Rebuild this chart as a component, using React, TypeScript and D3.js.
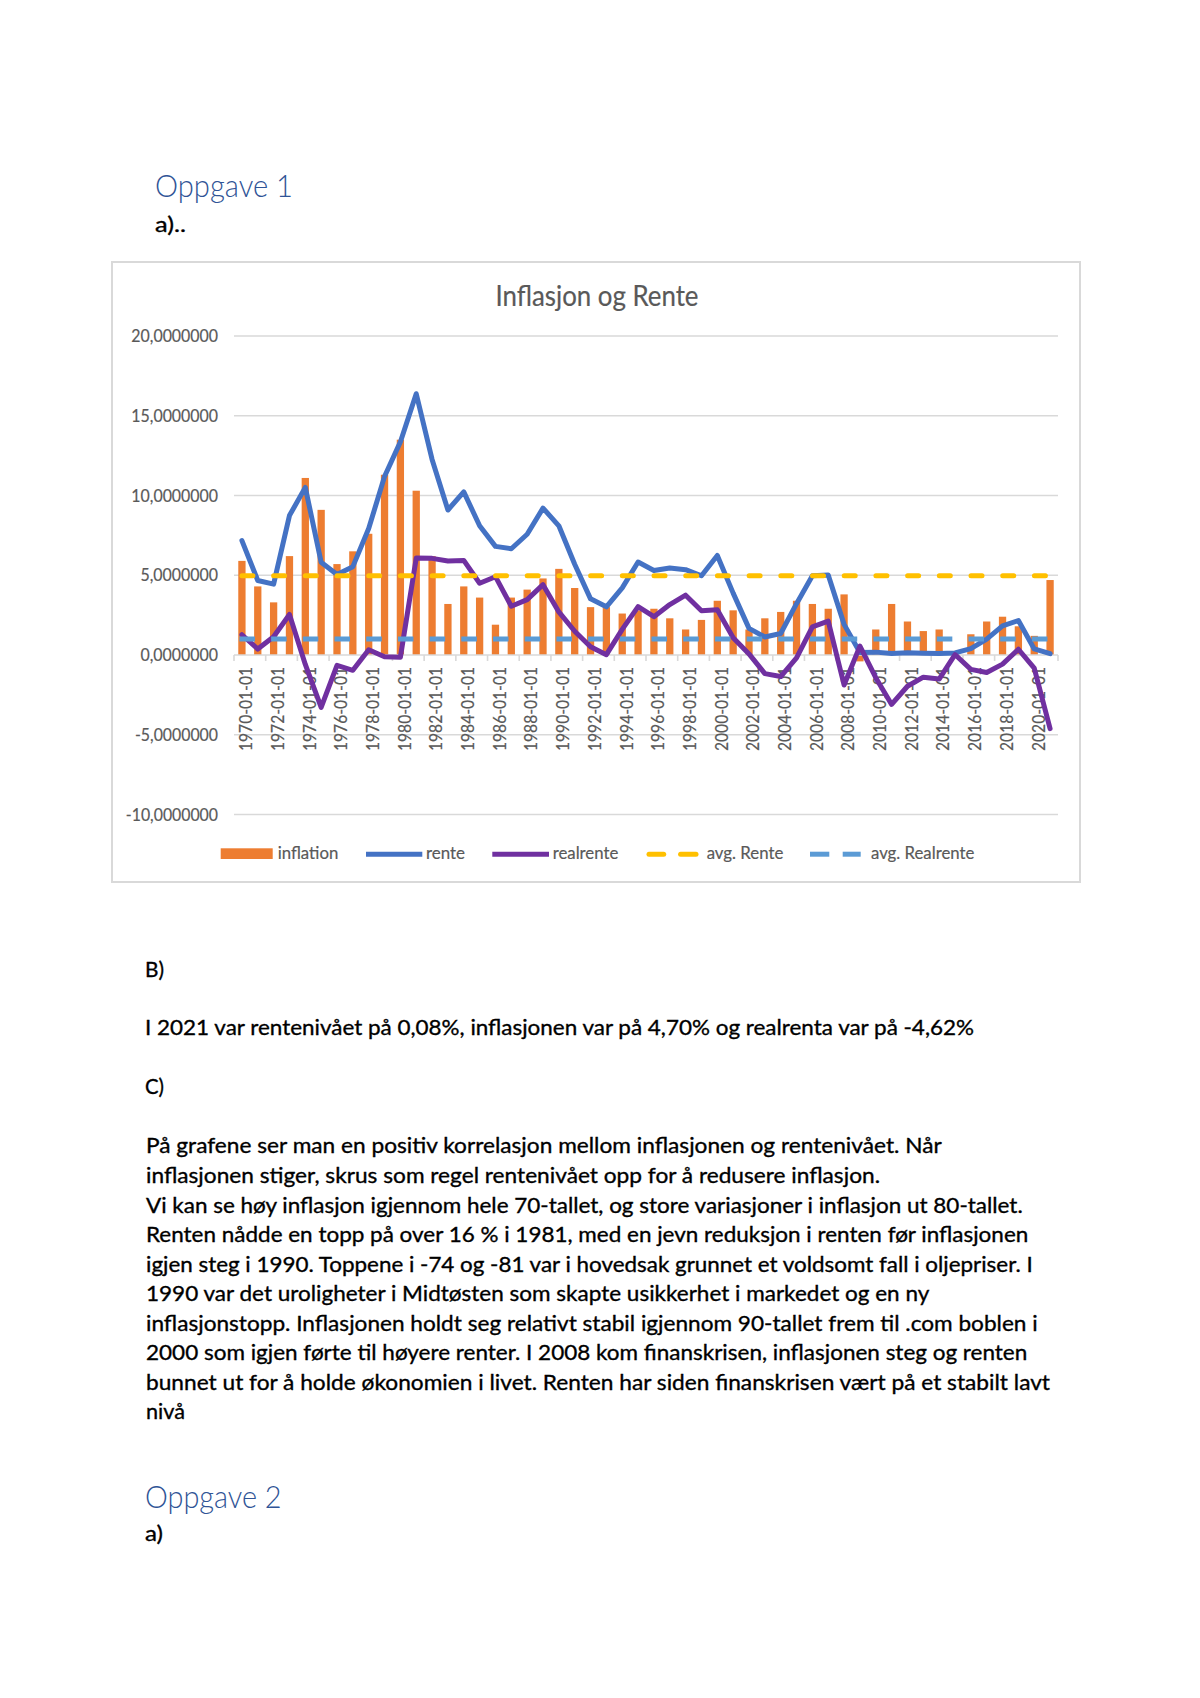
import React from 'react';
import * as d3 from 'd3';

// ---------- DATA ----------
const years = [
  1970, 1971, 1972, 1973, 1974, 1975, 1976, 1977, 1978, 1979,
  1980, 1981, 1982, 1983, 1984, 1985, 1986, 1987, 1988, 1989,
  1990, 1991, 1992, 1993, 1994, 1995, 1996, 1997, 1998, 1999,
  2000, 2001, 2002, 2003, 2004, 2005, 2006, 2007, 2008, 2009,
  2010, 2011, 2012, 2013, 2014, 2015, 2016, 2017, 2018, 2019,
  2020, 2021,
];
const categories = years.map((y) => `${y}-01-01`);

const inflation = [
  5.9, 4.3, 3.3, 6.2, 11.1, 9.1, 5.7, 6.5, 7.6, 11.3,
  13.5, 10.3, 6.2, 3.2, 4.3, 3.6, 1.9, 3.6, 4.1, 4.8,
  5.4, 4.2, 3.0, 3.0, 2.6, 2.8, 2.9, 2.3, 1.6, 2.2,
  3.4, 2.8, 1.6, 2.3, 2.7, 3.4, 3.2, 2.9, 3.8, -0.4,
  1.6, 3.2, 2.1, 1.5, 1.6, 0.1, 1.3, 2.1, 2.4, 1.8,
  1.2, 4.7,
];

const rente = [
  7.17, 4.67, 4.44, 8.74, 10.51, 5.82, 5.05, 5.54, 7.93, 11.19,
  13.36, 16.38, 12.26, 9.09, 10.23, 8.10, 6.81, 6.66, 7.57, 9.21,
  8.10, 5.69, 3.52, 3.02, 4.21, 5.83, 5.30, 5.46, 5.35, 4.97,
  6.24, 3.88, 1.67, 1.13, 1.35, 3.22, 4.97, 5.02, 1.92, 0.16,
  0.18, 0.10, 0.14, 0.11, 0.09, 0.13, 0.40, 1.00, 1.83, 2.16,
  0.38, 0.08,
];

const realrente = [
  1.27, 0.37, 1.14, 2.54, -0.59, -3.28, -0.65, -0.96, 0.33, -0.11,
  -0.14, 6.08, 6.06, 5.89, 5.93, 4.50, 4.91, 3.06, 3.47, 4.41,
  2.70, 1.49, 0.52, 0.02, 1.61, 3.03, 2.40, 3.16, 3.75, 2.77,
  2.84, 1.08, 0.07, -1.17, -1.35, -0.18, 1.77, 2.12, -1.88, 0.56,
  -1.42, -3.10, -1.96, -1.39, -1.51, 0.03, -0.90, -1.10, -0.57, 0.36,
  -0.82, -4.62,
];

const avgRente = 4.97;
const avgRealrente = 1.01;

const yTicks = [-10, -5, 0, 5, 10, 15, 20];
const seriesNames = ['inflation', 'rente', 'realrente', 'avg. Rente', 'avg. Realrente'];
const chartTitle = 'Inflasjon og Rente';

const paragraph = [
  'På grafene ser man en positiv korrelasjon mellom inflasjonen og rentenivået. Når',
  'inflasjonen stiger, skrus som regel rentenivået opp for å redusere inflasjon.',
  'Vi kan se høy inflasjon igjennom hele 70-tallet, og store variasjoner i inflasjon ut 80-tallet.',
  'Renten nådde en topp på over 16 % i 1981, med en jevn reduksjon i renten før inflasjonen',
  'igjen steg i 1990. Toppene i -74 og -81 var i hovedsak grunnet et voldsomt fall i oljepriser. I',
  '1990 var det uroligheter i Midtøsten som skapte usikkerhet i markedet og en ny',
  'inflasjonstopp. Inflasjonen holdt seg relativt stabil igjennom 90-tallet frem til .com boblen i',
  '2000 som igjen førte til høyere renter. I 2008 kom finanskrisen, inflasjonen steg og renten',
  'bunnet ut for å holde økonomien i livet. Renten har siden finanskrisen vært på et stabilt lavt',
  'nivå',
];

// ---------- STYLE / LAYOUT ----------
const FONT = "Lato, 'Open Sans', sans-serif";
const GREY_TEXT = '#595959';
const GRID = '#D9D9D9';
const C_INFL = '#ED7D31';
const C_RENTE = '#4472C4';
const C_REAL = '#7030A0';
const C_AVG_R = '#FFC000';
const C_AVG_RR = '#5B9BD5';
const HEAD = '#2F5496';

const paraWidths = [795.7, 734, 876.7, 882.3, 886.7, 783.3, 891.7, 881.3, 904, 39];
const paraBaselines = [1153.3, 1182.8, 1212.5, 1242, 1271.6, 1301.2, 1330.8, 1360.2, 1389.8, 1419.3];

// approximate Calibri advance widths (em) for numeric labels
const cal: Record<string, number> = { ',': 0.25, '-': 0.306 };
const calW = (s: string, size: number) => s.split('').reduce((a, ch) => a + (cal[ch] ?? 0.507), 0) * size;

const fmtY = (v: number) => d3.format('.7f')(v).replace('.', ',').replace('−', '-');

const bodyStroke = { stroke: '#000', strokeWidth: 0.35 };
const greyStroke = { stroke: GREY_TEXT, strokeWidth: 0.2 };

export default function App() {
  const W = 1200;
  const H = 1698;

  const x = d3.scaleBand<string>().domain(categories).range([234, 1058]).paddingInner(0).paddingOuter(0);
  const y = d3.scaleLinear().domain([-10, 20]).range([814.5, 336]);
  const bw = x.bandwidth();
  const cx = (i: number) => (x(categories[i]) as number) + bw / 2;
  const barW = bw * 0.46;

  const lineGen = d3
    .line<number>()
    .x((_, i) => cx(i))
    .y((d) => y(d));

  const y0 = y(0);
  const xStart = cx(0);
  const xEnd = cx(categories.length - 1);

  const tickIdx = d3.range(0, categories.length + 1, 2);
  const labelIdx = d3.range(0, categories.length, 2);

  const legendY = 854.2;
  const LW = 5;

  return (
    <svg
      width={W}
      height={H}
      viewBox={`0 0 ${W} ${H}`}
      style={{ position: 'absolute', left: 0, top: 0, display: 'block', background: '#fff' }}
      fontFamily={FONT}
    >
      <rect x={0} y={0} width={W} height={H} fill="#fff" />

      {/* Heading */}
      <text x={155} y={197} fontSize={32} fontWeight={300} fill={HEAD} textLength={138} lengthAdjust="spacingAndGlyphs">
        Oppgave 1
      </text>
      <text x={155} y={231.7} fontSize={22} fill="#000" {...bodyStroke} textLength={31} lengthAdjust="spacingAndGlyphs">
        a)..
      </text>

      {/* Chart frame */}
      <rect x={112} y={262} width={968} height={620} fill="#fff" stroke={GRID} strokeWidth={2} />

      {/* Title */}
      <text x={597} y={306} fontSize={28} fill={GREY_TEXT} {...greyStroke} textAnchor="middle" textLength={203} lengthAdjust="spacingAndGlyphs">
        {chartTitle}
      </text>

      {/* Gridlines + y labels */}
      {yTicks.map((t) => (
        <g key={t}>
          {t !== 0 && (
            <line x1={234} x2={1058} y1={y(t)} y2={y(t)} stroke={GRID} strokeWidth={1.6} />
          )}
          <text
            x={218}
            y={y(t) + 6}
            fontSize={18}
            fill={GREY_TEXT}
            {...greyStroke}
            textAnchor="end"
            textLength={calW(fmtY(t), 18)}
            lengthAdjust="spacingAndGlyphs"
          >
            {fmtY(t)}
          </text>
        </g>
      ))}

      {/* Bars */}
      {inflation.map((v, i) => (
        <rect
          key={categories[i]}
          x={cx(i) - barW / 2}
          y={Math.min(y(v), y0)}
          width={barW}
          height={Math.abs(y(v) - y0)}
          fill={C_INFL}
        />
      ))}

      {/* Category axis */}
      <line x1={234} x2={1058} y1={y0} y2={y0} stroke={GRID} strokeWidth={1.6} />
      {tickIdx.map((k) => {
        const xx = k < categories.length ? (x(categories[k]) as number) : 1058;
        return <line key={k} x1={xx} x2={xx} y1={y0} y2={y0 + 6} stroke={GRID} strokeWidth={1.6} />;
      })}
      {labelIdx.map((i) => (
        <text
          key={i}
          transform={`translate(${cx(i) + 10.3},${y0 + 12}) rotate(-90)`}
          fontSize={18}
          fill={GREY_TEXT}
          {...greyStroke}
          textAnchor="end"
          textLength={calW(categories[i], 18)}
          lengthAdjust="spacingAndGlyphs"
        >
          {categories[i]}
        </text>
      ))}

      {/* Lines */}
      <path d={lineGen(rente) || ''} fill="none" stroke={C_RENTE} strokeWidth={LW} strokeLinejoin="round" strokeLinecap="round" />
      <path d={lineGen(realrente) || ''} fill="none" stroke={C_REAL} strokeWidth={LW} strokeLinejoin="round" strokeLinecap="round" />
      <line
        x1={xStart}
        x2={xEnd}
        y1={y(avgRente)}
        y2={y(avgRente)}
        stroke={C_AVG_R}
        strokeWidth={LW}
        strokeDasharray="11 20.7"
        strokeLinecap="round"
      />
      <line
        x1={xStart - 2.5}
        x2={xEnd}
        y1={y(avgRealrente)}
        y2={y(avgRealrente)}
        stroke={C_AVG_RR}
        strokeWidth={LW}
        strokeDasharray="15.5 16.2"
      />

      {/* Legend */}
      <rect x={220.7} y={848.3} width={52} height={10.7} fill={C_INFL} />
      <text x={277.7} y={858.5} fontSize={18} fill={GREY_TEXT} {...greyStroke} textLength={60.6} lengthAdjust="spacingAndGlyphs">
        {seriesNames[0]}
      </text>
      <line x1={366} x2={422.3} y1={legendY} y2={legendY} stroke={C_RENTE} strokeWidth={5} />
      <text x={426} y={858.5} fontSize={18} fill={GREY_TEXT} {...greyStroke} textLength={39} lengthAdjust="spacingAndGlyphs">
        {seriesNames[1]}
      </text>
      <line x1={492.3} x2={549} y1={legendY} y2={legendY} stroke={C_REAL} strokeWidth={5} />
      <text x={552.7} y={858.5} fontSize={18} fill={GREY_TEXT} {...greyStroke} textLength={65.6} lengthAdjust="spacingAndGlyphs">
        {seriesNames[2]}
      </text>
      <line x1={649} x2={663.7} y1={legendY} y2={legendY} stroke={C_AVG_R} strokeWidth={5} strokeLinecap="round" />
      <line x1={680.6} x2={696} y1={legendY} y2={legendY} stroke={C_AVG_R} strokeWidth={5} strokeLinecap="round" />
      <text x={706.7} y={858.5} fontSize={18} fill={GREY_TEXT} {...greyStroke} textLength={76.6} lengthAdjust="spacingAndGlyphs">
        {seriesNames[3]}
      </text>
      <line x1={810} x2={829.3} y1={legendY} y2={legendY} stroke={C_AVG_RR} strokeWidth={5} />
      <line x1={842.7} x2={860.7} y1={legendY} y2={legendY} stroke={C_AVG_RR} strokeWidth={5} />
      <text x={871} y={858.5} fontSize={18} fill={GREY_TEXT} {...greyStroke} textLength={103.3} lengthAdjust="spacingAndGlyphs">
        {seriesNames[4]}
      </text>

      {/* Body text */}
      <text x={145} y={976.5} fontSize={22} fill="#000" {...bodyStroke} textLength={19} lengthAdjust="spacingAndGlyphs">
        B)
      </text>
      <text x={145} y={1035.3} fontSize={22} fill="#000" {...bodyStroke} textLength={829} lengthAdjust="spacingAndGlyphs">
        I 2021 var rentenivået på 0,08%, inflasjonen var på 4,70% og realrenta var på -4,62%
      </text>
      <text x={145} y={1094.3} fontSize={22} fill="#000" {...bodyStroke} textLength={19} lengthAdjust="spacingAndGlyphs">
        C)
      </text>
      {paragraph.map((line, i) => (
        <text
          key={i}
          x={146}
          y={paraBaselines[i]}
          fontSize={22}
          fill="#000"
          {...bodyStroke}
          textLength={paraWidths[i]}
          lengthAdjust="spacingAndGlyphs"
        >
          {line}
        </text>
      ))}

      <text x={145} y={1507.5} fontSize={32} fontWeight={300} fill={HEAD} textLength={136.6} lengthAdjust="spacingAndGlyphs">
        Oppgave 2
      </text>
      <text x={145} y={1541} fontSize={22} fill="#000" {...bodyStroke} textLength={18} lengthAdjust="spacingAndGlyphs">
        a)
      </text>
    </svg>
  );
}
